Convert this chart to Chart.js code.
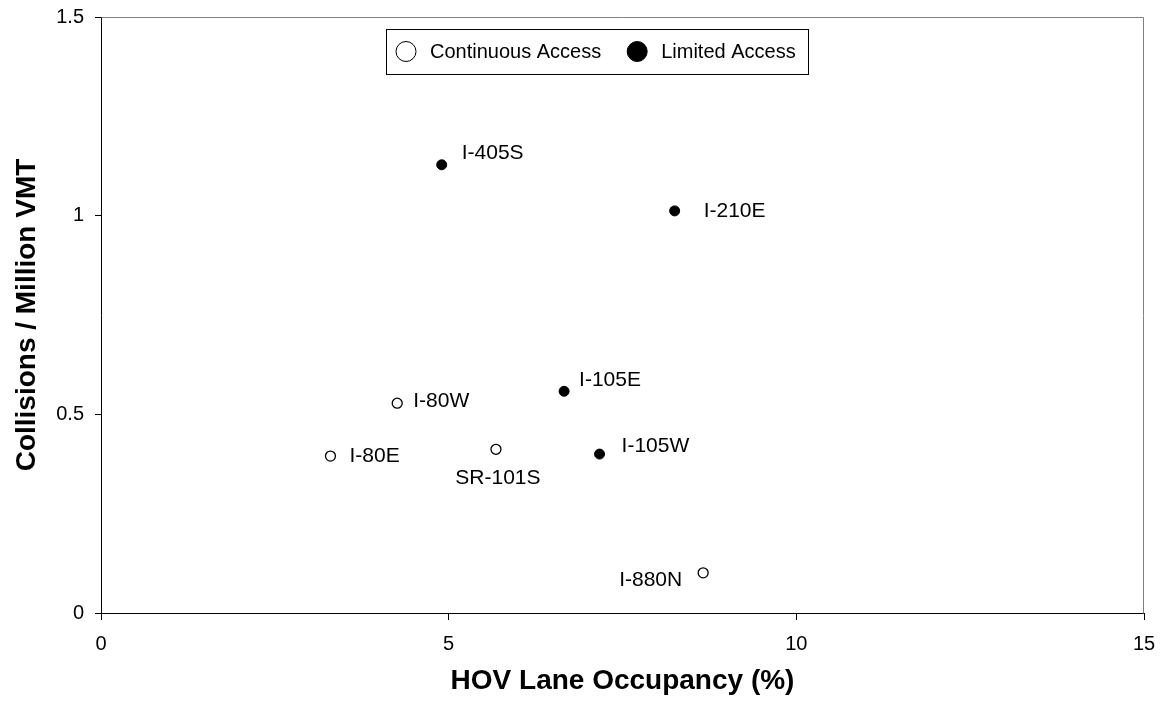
<!DOCTYPE html>
<html><head><meta charset="utf-8">
<script src="https://cdn.jsdelivr.net/npm/chart.js@4.4.1/dist/chart.umd.min.js"></script>
<style>html,body{margin:0;padding:0;background:#fff;} #wrap{width:1164px;height:706px;}</style>
</head><body><div id="wrap"><canvas id="c" width="1164" height="706"></canvas></div>
<script>
const continuousNames = ['I-80E', 'I-80W', 'SR-101S', 'I-880N'];
const continuousOccupancy = [3.3, 4.26, 5.68, 8.66];
const continuousCollisions = [0.395, 0.528, 0.412, 0.101];
const limitedNames = ['I-405S', 'I-210E', 'I-105E', 'I-105W'];
const limitedOccupancy = [4.9, 8.25, 6.66, 7.17];
const limitedCollisions = [1.128, 1.012, 0.558, 0.400];
const xTicks = [0, 5, 10, 15];
const xTickLabels = ['0', '5', '10', '15'];
const yTicks = [0, 0.5, 1, 1.5];
const yTickLabels = ['0', '0.5', '1', '1.5'];
const seriesNames = ['Continuous Access', 'Limited Access'];
const xTitle = 'HOV Lane Occupancy (%)';
const yTitle = 'Collisions / Million VMT';

const FONT = '"Liberation Sans", Arial, sans-serif';
Chart.defaults.font.family = FONT;
Chart.defaults.color = '#000';

const labelPlacement = {
  'I-80E': [19, 0, 'left'],
  'I-80W': [16, -2, 'left'],
  'SR-101S': [2, 29, 'center'],
  'I-880N': [-21, 7, 'right'],
  'I-405S': [20, -12, 'left'],
  'I-210E': [29, 0, 'left'],
  'I-105E': [15, -11, 'left'],
  'I-105W': [22, -8, 'left']
};

const pointLabels = {
  id: 'pointLabels',
  afterDatasetsDraw(chart) {
    const ctx = chart.ctx;
    ctx.save();
    ctx.font = '21px ' + FONT;
    ctx.fillStyle = '#000';
    ctx.textBaseline = 'middle';
    chart.data.datasets.forEach((ds, i) => {
      const meta = chart.getDatasetMeta(i);
      meta.data.forEach((el, j) => {
        const name = ds.names[j];
        const p = labelPlacement[name] || [15, 0, 'left'];
        ctx.textAlign = p[2];
        ctx.fillText(name, el.x + p[0], el.y + p[1]);
      });
    });
    ctx.restore();
  }
};

const frame = {
  id: 'frame',
  beforeDatasetsDraw(chart) {
    const {ctx, chartArea: a} = chart;
    ctx.save();
    ctx.strokeStyle = '#808080';
    ctx.lineWidth = 1;
    ctx.beginPath();
    ctx.moveTo(Math.round(a.left) + 0.5, Math.round(a.top) + 0.5);
    ctx.lineTo(Math.round(a.right) - 0.5, Math.round(a.top) + 0.5);
    ctx.lineTo(Math.round(a.right) - 0.5, Math.round(a.bottom) + 0.5);
    ctx.stroke();
    ctx.restore();
  }
};

const boxLegend = {
  id: 'boxLegend',
  afterDraw(chart) {
    const {ctx, chartArea: a} = chart;
    const left = a.left + 285, top = a.top + 12, h = 45;
    const cy = top + h / 2;
    ctx.save();
    ctx.font = '20px ' + FONT;
    ctx.textBaseline = 'middle';
    ctx.textAlign = 'left';
    let x = left + 20;
    const items = chart.data.datasets;
    const positions = [];
    items.forEach((d) => {
      positions.push(x);
      x += 24 + ctx.measureText(d.label).width + 36;
    });
    const width = x - 36 + 12 - left;
    ctx.fillStyle = '#fff';
    ctx.fillRect(left, top, width, h);
    ctx.strokeStyle = '#000';
    ctx.lineWidth = 1;
    ctx.strokeRect(Math.round(left) + 0.5, Math.round(top) + 0.5, Math.round(width), h);
    items.forEach((d, i) => {
      const px = positions[i];
      ctx.beginPath();
      ctx.arc(px, cy, 10, 0, Math.PI * 2);
      ctx.fillStyle = d.backgroundColor;
      ctx.fill();
      ctx.strokeStyle = '#000';
      ctx.lineWidth = 1;
      ctx.stroke();
      ctx.fillStyle = '#000';
      ctx.fillText(d.label, px + 24, cy + 1);
    });
    ctx.restore();
  }
};

const toPoints = (xs, ys) => xs.map((v, i) => ({x: v, y: ys[i]}));
const zeroPad = s => { s.paddingTop = 0; s.paddingBottom = 0; s.paddingLeft = 0; s.paddingRight = 0; };

new Chart(document.getElementById('c'), {
  type: 'scatter',
  data: {
    datasets: [
      {
        label: seriesNames[0],
        names: continuousNames,
        data: toPoints(continuousOccupancy, continuousCollisions),
        backgroundColor: '#ffffff',
        borderColor: '#000000',
        borderWidth: 1.3,
        pointRadius: 5,
        pointHoverRadius: 5
      },
      {
        label: seriesNames[1],
        names: limitedNames,
        data: toPoints(limitedOccupancy, limitedCollisions),
        backgroundColor: '#000000',
        borderColor: '#000000',
        borderWidth: 1,
        pointRadius: 5,
        pointHoverRadius: 5
      }
    ]
  },
  options: {
    responsive: false,
    devicePixelRatio: 1,
    animation: false,
    events: [],
    layout: {padding: {left: 0, top: 17, right: 20, bottom: 0}},
    plugins: {legend: {display: false}, tooltip: {enabled: false}},
    scales: {
      x: {
        type: 'linear', position: 'bottom', min: 0, max: 15,
        afterBuildTicks: s => { s.ticks = xTicks.map(v => ({value: v})); },
        afterFit: s => { s.height = 93; zeroPad(s); },
        grid: {drawOnChartArea: false, drawTicks: true, tickLength: 7, color: '#000'},
        border: {display: true, color: '#000', width: 1},
        ticks: {font: {size: 20}, color: '#000', padding: 12,
          callback: (v, i) => xTickLabels[xTicks.indexOf(v)] ?? String(v)},
        title: {display: true, text: xTitle, font: {size: 28, weight: 'bold'}, color: '#000', padding: {top: 0, bottom: 8}}
      },
      y: {
        type: 'linear', position: 'left', min: 0, max: 1.5,
        afterBuildTicks: s => { s.ticks = yTicks.map(v => ({value: v})); },
        afterFit: s => { s.width = 101; zeroPad(s); },
        grid: {drawOnChartArea: false, drawTicks: true, tickLength: 6, color: '#000'},
        border: {display: true, color: '#000', width: 1},
        ticks: {font: {size: 20}, color: '#000', padding: 11,
          callback: (v, i) => yTickLabels[yTicks.indexOf(v)] ?? String(v)},
        title: {display: true, text: yTitle, font: {size: 28, weight: 'bold'}, color: '#000', padding: {top: 10, bottom: 0}}
      }
    }
  },
  plugins: [frame, pointLabels, boxLegend]
});
</script>
</body></html>
